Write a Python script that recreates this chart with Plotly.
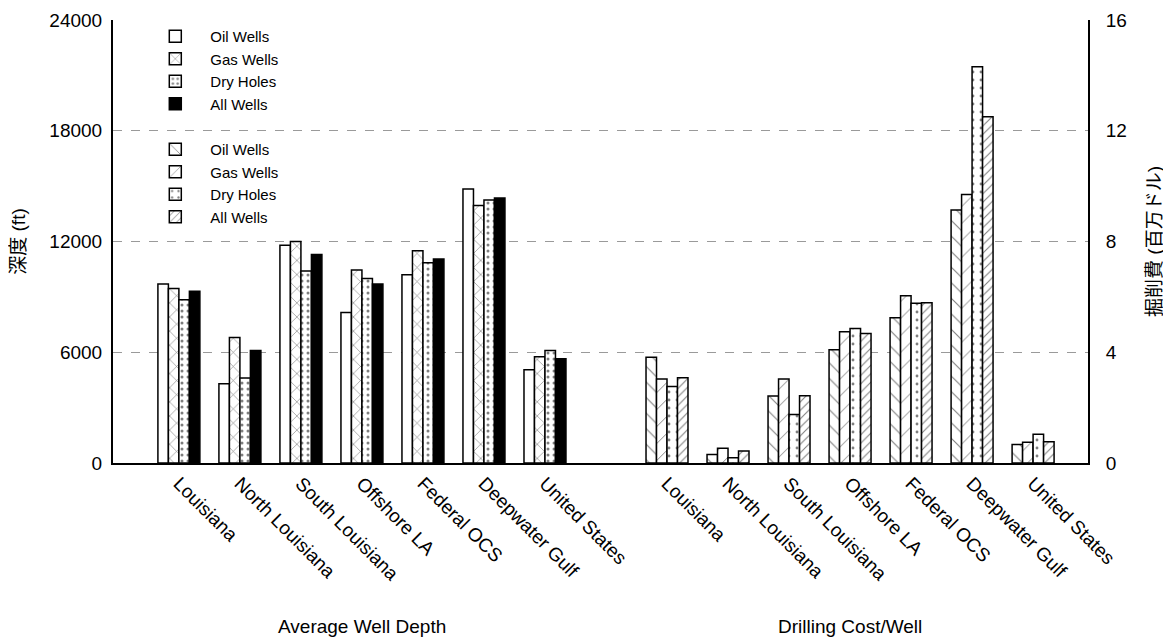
import plotly.graph_objects as go

regions = ["Louisiana", "North Louisiana", "South Louisiana", "Offshore LA",
           "Federal OCS", "Deepwater Gulf", "United States"]
series = ["Oil Wells", "Gas Wells", "Dry Holes", "All Wells"]

# Average well depth (ft)
depth_oil = [9700, 4300, 11800, 8150, 10200, 14850, 5050]
depth_gas = [9450, 6800, 12000, 10450, 11500, 13950, 5750]
depth_dry = [8850, 4600, 10400, 10000, 10850, 14250, 6100]
depth_all = [9300, 6100, 11300, 9700, 11050, 14350, 5650]

# Drilling cost per well (million $)
cost_oil = [3.82, 0.31, 2.42, 4.09, 5.25, 9.14, 0.67]
cost_gas = [3.03, 0.53, 3.03, 4.74, 6.04, 9.70, 0.75]
cost_dry = [2.76, 0.19, 1.75, 4.86, 5.77, 14.31, 1.04]
cost_all = [3.08, 0.43, 2.43, 4.68, 5.79, 12.51, 0.77]

left_ticks = [0, 6000, 12000, 18000, 24000]
right_ticks = [0, 4, 8, 12, 16]

FONT = "Arial, Liberation Sans, Noto Sans CJK JP, sans-serif"
x_left = list(range(7))
x_right = [i + 8 for i in range(7)]

bw = 0.172
offsets = [-2 * bw, -bw, 0, bw]

depth_styles = [
    dict(color="white", pattern=dict(shape="")),
    dict(color="white", pattern=dict(shape="x", fgcolor="black", bgcolor="white", size=10, solidity=0.12)),
    dict(color="white", pattern=dict(shape=".", fgcolor="black", bgcolor="white", size=6, solidity=0.2)),
    dict(color="black", pattern=dict(shape="")),
]
cost_styles = [
    dict(color="white", pattern=dict(shape="\\", fgcolor="black", bgcolor="white", size=11, solidity=0.1)),
    dict(color="white", pattern=dict(shape="/", fgcolor="black", bgcolor="white", size=12, solidity=0.08)),
    dict(color="white", pattern=dict(shape=".", fgcolor="black", bgcolor="white", size=8, solidity=0.1)),
    dict(color="white", pattern=dict(shape="/", fgcolor="black", bgcolor="white", size=6, solidity=0.18)),
]

fig = go.Figure()
for i, (name, vals) in enumerate(zip(series, [depth_oil, depth_gas, depth_dry, depth_all])):
    st = depth_styles[i]
    fig.add_trace(go.Bar(
        x=x_left, y=vals, name=name, width=bw, offset=offsets[i],
        legendgroup="depth",
        marker=dict(color=st["color"], pattern=st["pattern"],
                    line=dict(color="black", width=1.5)),
        yaxis="y",
    ))
for i, (name, vals) in enumerate(zip(series, [cost_oil, cost_gas, cost_dry, cost_all])):
    st = cost_styles[i]
    fig.add_trace(go.Bar(
        x=x_right, y=vals, name=name, width=bw, offset=offsets[i],
        legendgroup="cost",
        marker=dict(color=st["color"], pattern=st["pattern"],
                    line=dict(color="black", width=1.5)),
        yaxis="y2",
    ))

fig.update_layout(
    width=1163, height=631,
    margin=dict(l=105, r=83, t=12, b=176, autoexpand=False),
    paper_bgcolor="white", plot_bgcolor="white",
    barmode="overlay",
    font=dict(family=FONT, size=19, color="black"),
    xaxis=dict(
        range=[-1.08, 14.9],
        tickvals=x_left + x_right,
        ticktext=regions + regions,
        tickangle=45, automargin=False,
        showgrid=False, zeroline=False,
        showline=True, linecolor="black", linewidth=2,
        ticks="", tickfont=dict(size=19),
    ),
    yaxis=dict(
        range=[0, 24000], tickvals=left_ticks, tickformat="d",
        automargin=False, ticklabelstandoff=5,
        showgrid=True, gridcolor="#9a9a9a", griddash="dash", gridwidth=1,
        zeroline=False, showline=True, linecolor="black", linewidth=2,
        ticks="", ticklen=0, tickfont=dict(size=19),
        title=dict(text="深度 (ft)", font=dict(size=19), standoff=20),
    ),
    yaxis2=dict(
        range=[0, 16], tickvals=right_ticks, overlaying="y", side="right",
        automargin=False, ticklabelstandoff=12,
        showgrid=False, zeroline=False, showline=True, linecolor="black", linewidth=2,
        ticks="", tickfont=dict(size=19),
        title=dict(text="掘削費 (百万ドル)", font=dict(size=19), standoff=22),
    ),
    legend=dict(
        x=0.028, y=1.0, xanchor="left", yanchor="top",
        bgcolor="rgba(0,0,0,0)", traceorder="grouped", tracegroupgap=23,
        font=dict(size=15), itemwidth=60,
    ),
    showlegend=True,
    annotations=[
        dict(text="Average Well Depth", x=3, y=-0.37, xref="x", yref="paper",
             showarrow=False, xanchor="center", yanchor="middle", font=dict(size=19)),
        dict(text="Drilling Cost/Well", x=11, y=-0.37, xref="x", yref="paper",
             showarrow=False, xanchor="center", yanchor="middle", font=dict(size=19)),
    ],
)

fig.write_html("out.html")
